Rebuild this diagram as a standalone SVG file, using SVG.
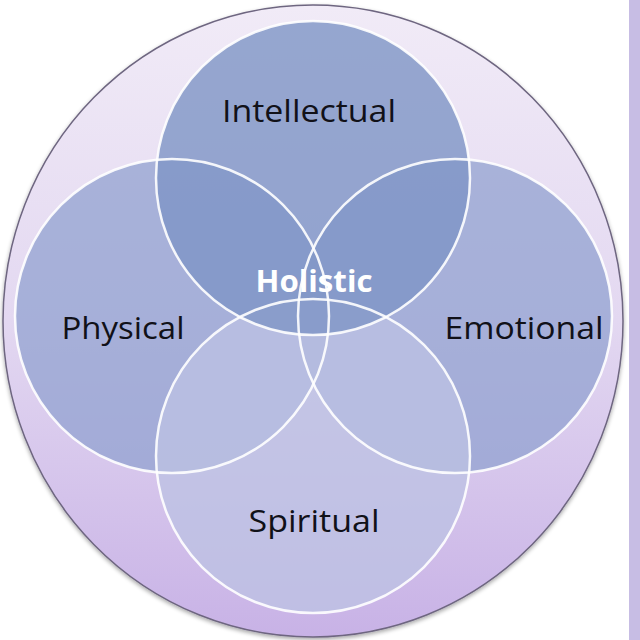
<svg xmlns="http://www.w3.org/2000/svg" width="640" height="640" viewBox="0 0 640 640">
  <defs>
    <linearGradient id="bg" x1="0" y1="0" x2="0" y2="1">
      <stop offset="0" stop-color="#f1ebf7"/>
      <stop offset="0.5" stop-color="#e3d8f1"/>
      <stop offset="1" stop-color="#c8b2e6"/>
    </linearGradient>
    <filter id="sh" x="-5%" y="-5%" width="110%" height="110%">
      <feGaussianBlur in="SourceAlpha" stdDeviation="2"/>
      <feOffset dy="2"/>
      <feComponentTransfer><feFuncA type="linear" slope="0.35"/></feComponentTransfer>
      <feMerge><feMergeNode/><feMergeNode in="SourceGraphic"/></feMerge>
    </filter>
    <style>
      .lbl { font-family: "Open Sans", "Liberation Sans", sans-serif; font-size: 31px; fill: #111118; text-anchor: middle; }
      .hol { font-family: "Open Sans", "Liberation Sans", sans-serif; font-size: 30px; font-weight: bold; fill: #ffffff; text-anchor: middle; }
      .ring { fill: none; stroke: #ffffff; stroke-width: 2.5; opacity: 0.9; }
    </style>
  </defs>
  <rect x="0" y="0" width="640" height="640" fill="#ffffff"/>
  <rect x="629" y="0" width="11" height="640" fill="#c7bde4"/>
  <g id="outer">
    <ellipse cx="313" cy="321" rx="310" ry="316" fill="url(#bg)" stroke="#6e6680" stroke-width="1.5" filter="url(#sh)"/>
  </g>
  <g id="physical">
    <circle cx="172" cy="316" r="157" fill="#91a2d0" fill-opacity="0.75"/>
  </g>
  <g id="emotional">
    <circle cx="455" cy="316" r="157" fill="#91a2d0" fill-opacity="0.75"/>
  </g>
  <g id="spiritual">
    <circle cx="313" cy="456" r="157" fill="#bcc1e3" fill-opacity="0.78"/>
  </g>
  <g id="intellectual">
    <circle cx="313" cy="178" r="157" fill="#7e95c6" fill-opacity="0.8"/>
  </g>
  <g id="outlines">
    <circle class="ring" cx="172" cy="316" r="157"/>
    <circle class="ring" cx="455" cy="316" r="157"/>
    <circle class="ring" cx="313" cy="456" r="157"/>
    <circle class="ring" cx="313" cy="178" r="157"/>
  </g>
  <g id="labels">
    <text class="lbl" x="309" y="122" textLength="174" lengthAdjust="spacingAndGlyphs">Intellectual</text>
    <text class="lbl" x="123" y="339" textLength="123" lengthAdjust="spacingAndGlyphs">Physical</text>
    <text class="lbl" x="524" y="339" textLength="159" lengthAdjust="spacingAndGlyphs">Emotional</text>
    <text class="lbl" x="314" y="532" textLength="131" lengthAdjust="spacingAndGlyphs">Spiritual</text>
    <text class="hol" x="314" y="292" textLength="117" lengthAdjust="spacingAndGlyphs">Holistic</text>
  </g>
</svg>
